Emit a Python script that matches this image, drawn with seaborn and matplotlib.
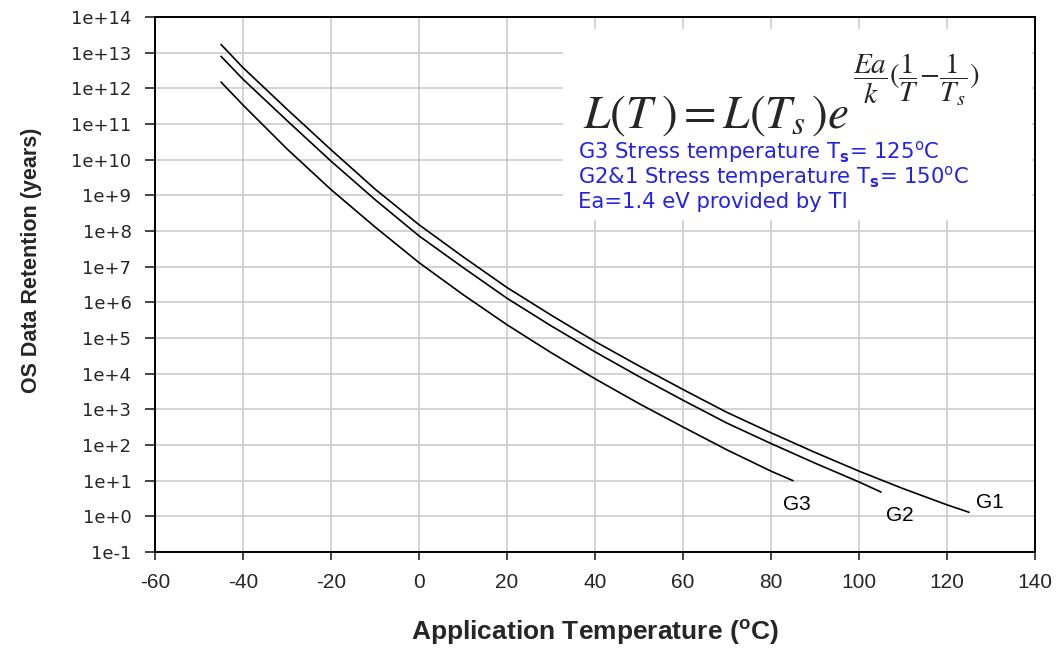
import numpy as np
import pandas as pd
import matplotlib
matplotlib.use("Agg")
import matplotlib.pyplot as plt
import matplotlib.ticker as mticker
from matplotlib.patches import Rectangle
import seaborn as sns

# values (temperature in C, retention in years)
g1_temp = [-45, -40, -30, -20, -10, 0, 10, 20, 30, 40, 50, 60, 70, 80, 90, 100, 110, 120, 125]
g1_years = [1.7e13, 3.8e12, 2.6e11, 1.9e10, 1.5e9, 1.5e8, 1.9e7, 2.6e6, 4.4e5, 8.0e4,
            1.65e4, 3.6e3, 820, 220, 62, 18.5, 6.0, 2.1, 1.3]

g2_temp = [-45, -40, -30, -20, -10, 0, 10, 20, 30, 40, 50, 60, 70, 80, 90, 100, 105]
g2_years = [7.9e12, 1.8e12, 1.25e11, 9.1e9, 7.6e8, 7.3e7, 9.5e6, 1.3e6, 2.2e5, 4.1e4,
            8.3e3, 1.8e3, 410, 110, 31, 9.2, 4.8]

g3_temp = [-45, -40, -30, -20, -10, 0, 10, 20, 30, 40, 50, 60, 70, 80, 85]
g3_years = [1.5e12, 3.4e11, 2.0e10, 1.45e9, 1.3e8, 1.3e7, 1.65e6, 2.35e5, 3.9e4, 7.2e3,
            1.45e3, 320, 73, 18.5, 10]

groups = ["G1", "G2", "G3"]
x_ticks = list(range(-60, 141, 20))
y_exponents = list(range(-1, 15))

df = pd.concat([
    pd.DataFrame({"temp": g1_temp, "years": g1_years, "group": "G1"}),
    pd.DataFrame({"temp": g2_temp, "years": g2_years, "group": "G2"}),
    pd.DataFrame({"temp": g3_temp, "years": g3_years, "group": "G3"}),
])

sns.set_style("white")
plt.rcParams["font.family"] = ["Liberation Sans", "DejaVu Sans"]
plt.rcParams["axes.unicode_minus"] = False

fig = plt.figure(figsize=(10.59, 6.49), dpi=100)
ax = fig.add_axes([155 / 1059, 1 - 552 / 649, 880 / 1059, 535 / 649])

sns.lineplot(data=df, x="temp", y="years", hue="group",
             palette={g: "black" for g in groups}, estimator=None, sort=False,
             legend=False, linewidth=1.2, ax=ax)

ax.set_yscale("log")
ax.set_xlim(-60, 140)
ax.set_ylim(1e-1, 1e14)
ax.set_xticks(x_ticks)
ax.yaxis.set_major_locator(mticker.FixedLocator([10.0 ** e for e in y_exponents]))
ax.yaxis.set_minor_locator(mticker.NullLocator())
ax.yaxis.set_major_formatter(
    mticker.FuncFormatter(lambda v, p: "1e%+d" % int(round(np.log10(v)))))

ax.set_axisbelow(True)
ax.grid(True, color="#c8c8c8", linewidth=1.1)
for side in ["left", "bottom", "top", "right"]:
    ax.spines[side].set_visible(True)
    ax.spines[side].set_color("black")
    ax.spines[side].set_linewidth(1.4)

ax.tick_params(axis="y", direction="out", length=7, width=1.2, pad=10,
               labelsize=13, left=True)
ax.tick_params(axis="x", direction="out", length=6, width=1.2, pad=9,
               labelsize=15, bottom=True)
for lab in ax.get_yticklabels():
    lab.set_family("DejaVu Sans")

ax.set_xlabel("Application Temperature ($^{\\mathregular{o}}$C)",
              fontsize=19, fontweight="bold")
ax.xaxis.set_label_coords(0.5, -0.122)
ax.set_ylabel("OS Data Retention (years)", fontsize=15.5, fontweight="bold")
ax.yaxis.set_label_coords(-0.128, 0.546)

# curve labels at line ends
ends = {"G1": (g1_temp[-1], g1_years[-1], (21, -10)),
        "G2": (g2_temp[-1], g2_years[-1], (19, 23)),
        "G3": (g3_temp[-1], g3_years[-1], (4, 24))}
for name, (tx, ty, off) in ends.items():
    ax.annotate(name, xy=(tx, ty), xytext=(off[0], -off[1]),
                textcoords="offset pixels", ha="center", va="center",
                fontsize=15, color="black")

# formula box
ax.add_patch(Rectangle((0.4636, 0.6206), 0.533, 0.357, transform=ax.transAxes,
                       facecolor="white", edgecolor="none", zorder=1.5))
ax.text(0.4864, 0.7925, r"$L(T\;) = L(T_s\,)e$", transform=ax.transAxes,
        fontsize=34, ha="left", va="baseline", math_fontfamily="stix", zorder=3)
ax.text(0.793, 0.882, r"$\dfrac{Ea}{k}(\dfrac{1}{T}\!-\!\dfrac{1}{T_s})$",
        transform=ax.transAxes, fontsize=21, ha="left", va="center",
        math_fontfamily="stix", zorder=3)

blue = "#2323e8"
info_lines = [
    r"G3 Stress temperature T$_\mathbf{s}$= 125$^\mathrm{o}$C",
    r"G2&1 Stress temperature T$_\mathbf{s}$= 150$^\mathrm{o}$C",
    "Ea=1.4 eV provided by TI",
]
for i, line in enumerate(info_lines):
    ax.text(0.4807, 0.7364 - i * 0.0467, line, transform=ax.transAxes,
            fontsize=15.2, color=blue, ha="left", va="baseline",
            family=["DejaVu Sans"], zorder=3)

fig.savefig("out.png", dpi=100)
